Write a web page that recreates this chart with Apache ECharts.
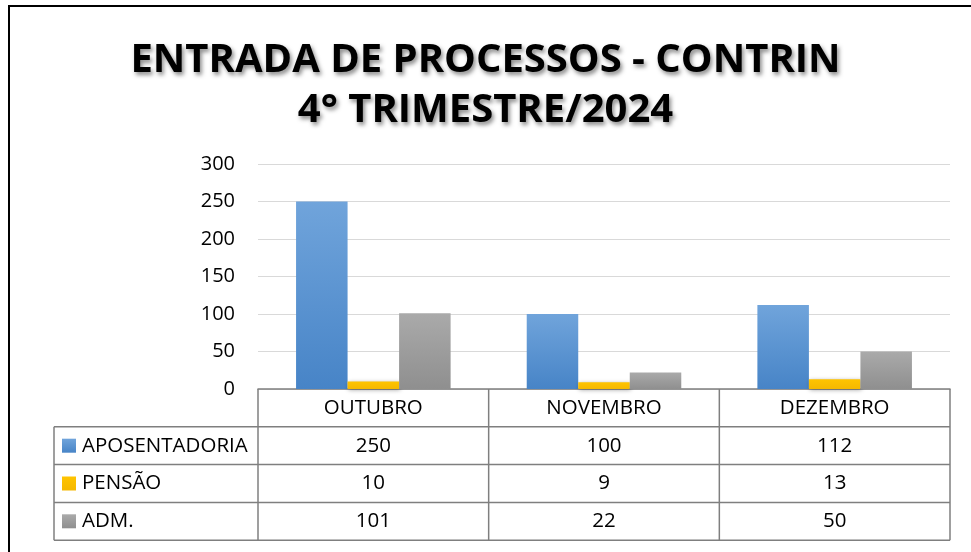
<!DOCTYPE html>
<html><head><meta charset="utf-8">
<script src="https://cdn.jsdelivr.net/npm/echarts@6/dist/echarts.min.js"></script>
<style>html,body{margin:0;padding:0;background:#fff}#c{width:971px;height:552px}</style>
</head><body><div id="c"></div>
<script>
var categories = ['OUTUBRO', 'NOVEMBRO', 'DEZEMBRO'];
var seriesNames = ['APOSENTADORIA', 'PENSÃO', 'ADM.'];
var aposentadoria = [250, 100, 112];
var pensao = [10, 9, 13];
var adm = [101, 22, 50];
var yTicks = [0, 50, 100, 150, 200, 250, 300];

var FONT = 'Open Sans';
var colors = [
  new echarts.graphic.LinearGradient(0,0,0,1,[{offset:0,color:'#70A4DB'},{offset:1,color:'#4784C7'}]),
  new echarts.graphic.LinearGradient(0,0,0,1,[{offset:0,color:'#FFC400'},{offset:1,color:'#F5B800'}]),
  new echarts.graphic.LinearGradient(0,0,0,1,[{offset:0,color:'#AAAAAA'},{offset:1,color:'#8F8F8F'}])
];
var values = [aposentadoria, pensao, adm];

var chart = echarts.init(document.getElementById('c'));
var option = {
  animation: false,
  backgroundColor: '#fff',
  title: {
    text: 'ENTRADA DE PROCESSOS - CONTRIN\n4° TRIMESTRE/2024',
    left: 'center', top: 31,
    textStyle: {
      fontFamily: FONT, fontWeight: 'bold', fontSize: 40, lineHeight: 50, color: '#000',
      textShadowColor: 'rgba(0,0,0,0.45)', textShadowBlur: 4, textShadowOffsetX: 2, textShadowOffsetY: 3
    }
  },
  grid: { left: 258, right: 21, top: 164, bottom: 163 },
  xAxis: {
    type: 'category', data: categories,
    axisLine: { show: true, lineStyle: { color: '#7F7F7F', width: 1.5 } },
    axisTick: { show: false }, axisLabel: { show: false }
  },
  yAxis: {
    type: 'value', min: 0, max: 300, interval: 50,
    axisLine: { show: false }, axisTick: { show: false },
    axisLabel: { fontFamily: FONT, fontSize: 20, color: '#000', margin: 23,
      formatter: function(v){ return yTicks.indexOf(v) >= 0 ? String(v) : ''; } },
    splitLine: { lineStyle: { color: '#D9D9D9', width: 1 } }
  },
  series: seriesNames.map(function(n, i){
    return {
      name: n, type: 'bar', data: values[i], barGap: '0%', barCategoryGap: '33%',
      itemStyle: { color: colors[i], shadowColor: 'rgba(0,0,0,0.35)', shadowBlur: 4, shadowOffsetX: 1, shadowOffsetY: 1 }
    };
  })
};
chart.setOption(option);

// Build data table beneath the axis using the axis scale
var c0 = chart.convertToPixel({xAxisIndex: 0}, categories[0]);
var c1 = chart.convertToPixel({xAxisIndex: 0}, categories[1]);
var band = c1 - c0;
var yZero = chart.convertToPixel({yAxisIndex: 0}, 0);
var rowH = 37.8;
var leftX = 54;
var xs = categories.map(function(c){ return chart.convertToPixel({xAxisIndex:0}, c); });
var tableLeft = xs[0] - band/2, tableRight = xs[xs.length-1] + band/2;
var lineColor = '#7F7F7F';
var TF = '20.5px "' + FONT + '"';
var g = [];
function line(x1,y1,x2,y2){ g.push({type:'line', shape:{x1:x1,y1:y1,x2:x2,y2:y2}, style:{stroke:lineColor, lineWidth:1.5}, silent:true}); }
var bottomY = yZero + rowH * (seriesNames.length + 1);
for (var r = 1; r <= seriesNames.length + 1; r++) line(leftX, yZero + rowH*r, tableRight, yZero + rowH*r);
line(tableLeft, yZero, tableLeft, bottomY);
for (var k = 0; k < xs.length; k++) line(xs[k] + band/2, yZero, xs[k] + band/2, bottomY);
line(leftX, yZero + rowH, leftX, bottomY);
// header
categories.forEach(function(c, k){
  g.push({type:'text', x: xs[k], y: yZero + rowH/2, style:{text:c, align:'center', verticalAlign:'middle', font:TF, fill:'#000'}, silent:true});
});
seriesNames.forEach(function(n, i){
  var cy = yZero + rowH*(i+1) + rowH/2;
  g.push({type:'rect', shape:{x: leftX+8, y: cy-7, width:14, height:14}, style:{fill: colors[i]}, silent:true});
  g.push({type:'text', x: leftX+28, y: cy, style:{text:n, align:'left', verticalAlign:'middle', font:TF, fill:'#000'}, silent:true});
  values[i].forEach(function(v, k){
    g.push({type:'text', x: xs[k], y: cy, style:{text:String(v), align:'center', verticalAlign:'middle', font:TF, fill:'#000'}, silent:true});
  });
});
// outer frame
g.push({type:'rect', shape:{x:9, y:6, width:1000, height:600}, style:{fill:'none', stroke:'#000', lineWidth:2}, silent:true});
chart.setOption({graphic: g});
</script>
</body></html>
